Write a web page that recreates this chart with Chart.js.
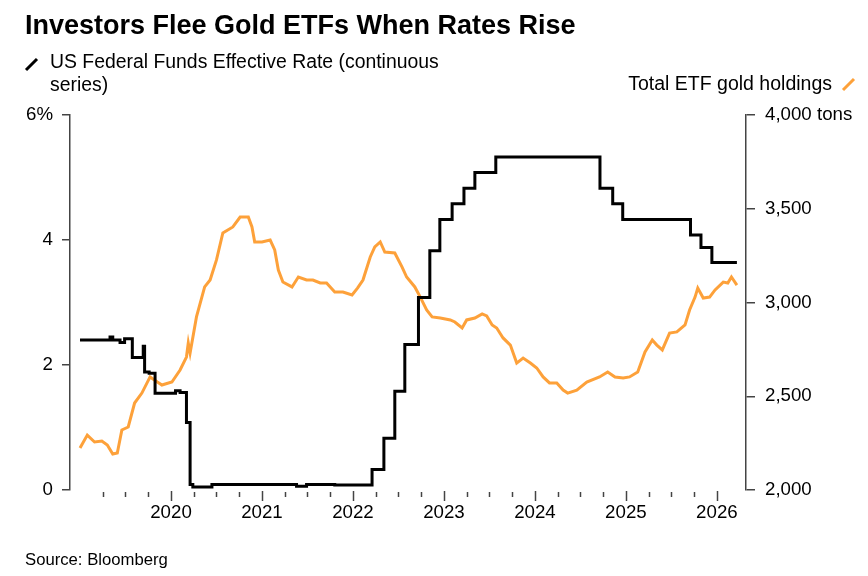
<!DOCTYPE html>
<html>
<head>
<meta charset="utf-8">
<script src="https://cdn.jsdelivr.net/npm/chart.js@4"></script>
<style>
  body { margin: 0; background: #fff; font-family: "Liberation Sans", Arial, sans-serif; }
  #wrap { position: relative; width: 868px; height: 576px; }
  #myChart { position: absolute; left: 0; top: 0; }
  .txt { position: absolute; color: #000; white-space: nowrap; }
  #title { left: 25px; top: 10px; font-size: 27px; font-weight: bold; }
  #legL { left: 50px; top: 50px; font-size: 19.4px; line-height: 23px; }
  #legR { right: 36px; top: 72px; font-size: 19.5px; }
  #source { left: 25px; top: 550px; font-size: 16.7px; }
  svg { position: absolute; }
</style>
</head>
<body>
<div id="wrap">
  <canvas id="myChart" width="868" height="576"></canvas>
  <div class="txt" id="title">Investors Flee Gold ETFs When Rates Rise</div>
  <svg style="left:24px;top:56px" width="16" height="16"><line x1="2" y1="14" x2="13" y2="3" stroke="#000" stroke-width="3"/></svg>
  <div class="txt" id="legL">US Federal Funds Effective Rate (continuous<br>series)</div>
  <div class="txt" id="legR">Total ETF gold holdings</div>
  <svg style="left:841px;top:76px" width="16" height="16"><line x1="2" y1="14" x2="13" y2="3" stroke="#FDA13A" stroke-width="3"/></svg>
  <div class="txt" id="source">Source: Bloomberg</div>
</div>
<script>
// Fed funds effective rate, % (decimal year, new level from that date)
const fedDates = [2019.0, 2019.25, 2019.33, 2019.36, 2019.44, 2019.49, 2019.575, 2019.695, 2019.71, 2019.76, 2019.825, 2020.05, 2020.10, 2020.17, 2020.21, 2020.24, 2020.45, 2021.38, 2021.49, 2021.80, 2022.21, 2022.34, 2022.46, 2022.57, 2022.72, 2022.845, 2022.955, 2023.09, 2023.22, 2023.34, 2023.57, 2024.715, 2024.855, 2024.965, 2025.71, 2025.825, 2025.945, 2026.22];
const fedRates = [2.40, 2.40, 2.45, 2.40, 2.36, 2.42, 2.12, 2.30, 1.89, 1.87, 1.55, 1.59, 1.56, 1.08, 0.09, 0.05, 0.09, 0.06, 0.09, 0.08, 0.33, 0.83, 1.58, 2.33, 3.08, 3.83, 4.33, 4.58, 4.83, 5.08, 5.33, 4.83, 4.58, 4.33, 4.08, 3.88, 3.64, 3.64];

// Total ETF gold holdings, tons
const goldDates = [2019.0, 2019.08, 2019.16, 2019.24, 2019.30, 2019.36, 2019.41, 2019.46, 2019.53, 2019.60, 2019.68, 2019.77, 2019.85, 2019.90, 2020.01, 2020.10, 2020.17, 2020.19, 2020.21, 2020.28, 2020.37, 2020.43, 2020.50, 2020.57, 2020.68, 2020.76, 2020.85, 2020.89, 2020.92, 2021.00, 2021.09, 2021.14, 2021.18, 2021.23, 2021.33, 2021.40, 2021.49, 2021.56, 2021.64, 2021.71, 2021.80, 2021.89, 2021.99, 2022.05, 2022.11, 2022.19, 2022.24, 2022.30, 2022.35, 2022.46, 2022.54, 2022.59, 2022.68, 2022.74, 2022.81, 2022.87, 2022.96, 2023.07, 2023.12, 2023.20, 2023.25, 2023.34, 2023.42, 2023.47, 2023.53, 2023.58, 2023.65, 2023.73, 2023.80, 2023.87, 2023.95, 2024.02, 2024.09, 2024.16, 2024.24, 2024.31, 2024.36, 2024.46, 2024.57, 2024.71, 2024.80, 2024.88, 2024.97, 2025.04, 2025.13, 2025.21, 2025.29, 2025.34, 2025.40, 2025.48, 2025.56, 2025.65, 2025.70, 2025.76, 2025.79, 2025.85, 2025.92, 2025.98, 2026.07, 2026.12, 2026.16, 2026.22];
const goldTons = [2224, 2293, 2256, 2261, 2240, 2192, 2197, 2320, 2336, 2464, 2517, 2603, 2576, 2560, 2576, 2640, 2709, 2784, 2731, 2923, 3083, 3120, 3227, 3371, 3403, 3456, 3456, 3403, 3323, 3323, 3333, 3280, 3173, 3109, 3083, 3136, 3120, 3120, 3104, 3104, 3056, 3056, 3040, 3077, 3120, 3243, 3296, 3323, 3269, 3264, 3189, 3136, 3083, 3029, 2960, 2923, 2917, 2907, 2896, 2864, 2907, 2917, 2939, 2928, 2880, 2864, 2811, 2773, 2677, 2704, 2677, 2651, 2603, 2571, 2571, 2533, 2517, 2533, 2576, 2603, 2629, 2603, 2597, 2603, 2629, 2736, 2800, 2773, 2747, 2837, 2843, 2880, 2960, 3029, 3077, 3024, 3029, 3067, 3109, 3104, 3136, 3093];

const leftTicks = [0, 2, 4, 6];
const rightTicks = [2000, 2500, 3000, 3500, 4000];
const yearTicks = [2020, 2021, 2022, 2023, 2024, 2025, 2026];

const axisColor = '#444';
const tickFont = { family: '"Liberation Sans", Arial, sans-serif', size: 18.7 };

// quarterly tick marks on the time axis, longer at each year
const xTicksPlugin = {
    id: 'xTicks',
    afterDraw(chart) {
        const ctx = chart.ctx;
        const xs = chart.scales.x;
        const bottom = chart.chartArea.bottom;
        ctx.save();
        ctx.strokeStyle = axisColor;
        ctx.lineWidth = 1.5;
        // first mark 2019 Q2, last mark 2026
        for (let q = 2019 * 4 + 1; q <= 2026 * 4; q++) {
            const v = q / 4;
            const px = Math.round(xs.getPixelForValue(v)) + 0.5;
            const major = q % 4 === 0;
            ctx.beginPath();
            ctx.moveTo(px, bottom + (major ? 1 : 2));
            ctx.lineTo(px, bottom + (major ? 11 : 7));
            ctx.stroke();
        }
        ctx.restore();
    }
};

const config = {
    type: 'line',
    data: {
        datasets: [{
            label: 'US Federal Funds Effective Rate (continuous series)',
            data: fedDates.map((d, i) => ({ x: d, y: fedRates[i] })),
            borderColor: '#000',
            borderWidth: 3,
            stepped: true,
            pointRadius: 0,
            yAxisID: 'y',
            order: 0
        }, {
            label: 'Total ETF gold holdings',
            data: goldDates.map((d, i) => ({ x: d, y: goldTons[i] })),
            borderColor: '#FDA13A',
            borderWidth: 3,
            tension: 0,
            pointRadius: 0,
            yAxisID: 'y2',
            order: 1
        }]
    },
    options: {
        responsive: false,
        animation: false,
        layout: { padding: { top: 115, left: 0, right: 0, bottom: 0 } },
        plugins: {
            legend: { display: false },
            tooltip: { enabled: false }
        },
        scales: {
            x: {
                type: 'linear',
                min: 2018.89,
                max: 2026.32,
                grid: { display: false, drawTicks: false },
                border: { display: false },
                afterBuildTicks: (s) => { s.ticks = yearTicks.map(v => ({ value: v })); },
                afterFit: (s) => { s.height = 86; },
                ticks: {
                    color: '#000',
                    font: tickFont,
                    padding: 12,
                    maxRotation: 0,
                    autoSkip: false,
                    callback: (v) => String(v)
                }
            },
            y: {
                position: 'left',
                min: 0,
                max: 6,
                afterBuildTicks: (s) => { s.ticks = leftTicks.map(v => ({ value: v })); },
                afterFit: (s) => { s.width = 70; },
                border: { display: true, color: axisColor, width: 1.5 },
                grid: { drawOnChartArea: false, tickLength: 8, color: axisColor, lineWidth: 1.5 },
                ticks: {
                    color: '#000',
                    font: tickFont,
                    padding: 9,
                    callback: (v) => v === 6 ? '6%' : String(v)
                }
            },
            y2: {
                position: 'right',
                min: 2000,
                max: 4000,
                afterBuildTicks: (s) => { s.ticks = rightTicks.map(v => ({ value: v })); },
                afterFit: (s) => { s.width = 122; },
                border: { display: true, color: axisColor, width: 1.5 },
                grid: { drawOnChartArea: false, tickLength: 9, color: axisColor, lineWidth: 1.5 },
                ticks: {
                    color: '#000',
                    font: tickFont,
                    padding: 10,
                    callback: (v) => v.toLocaleString('en-US') + (v === 4000 ? ' tons' : '')
                }
            }
        }
    },
    plugins: [xTicksPlugin]
};

const ctx = document.getElementById('myChart').getContext('2d');
new Chart(ctx, config);
</script>
</body>
</html>
